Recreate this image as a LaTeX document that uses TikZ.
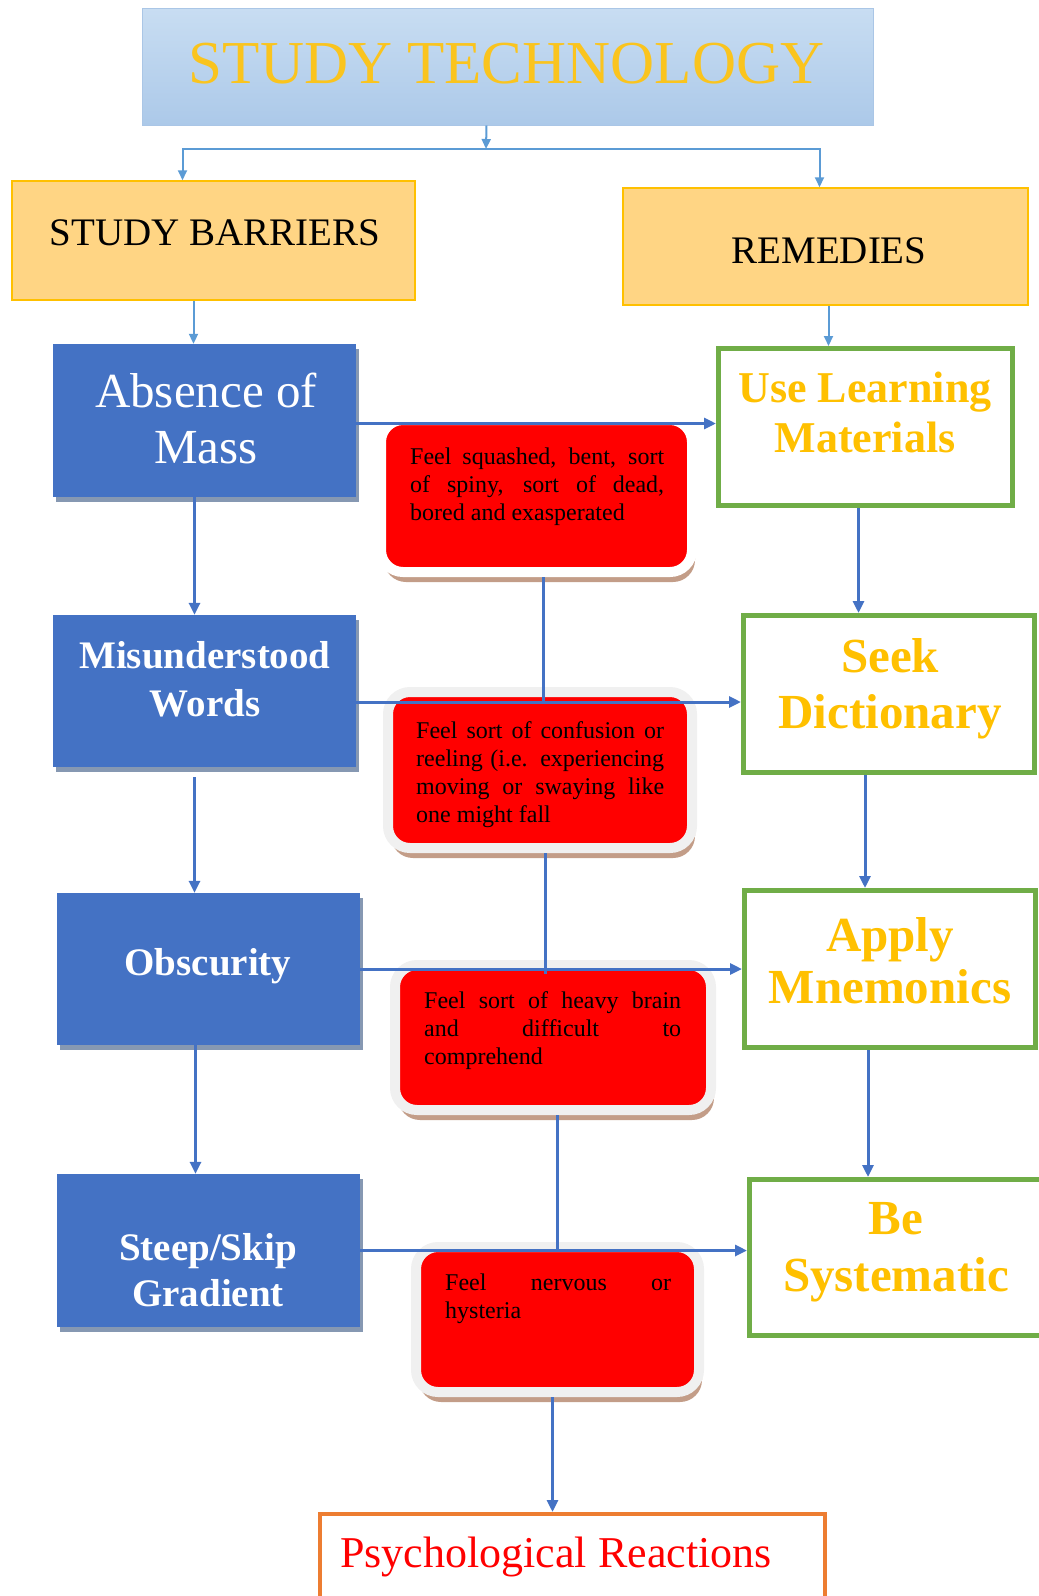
\documentclass[tikz,border=0pt]{standalone}
\usepackage{fontspec}
\setmainfont{Liberation Serif}
\usetikzlibrary{arrows.meta,shadows,calc}
\definecolor{titletop}{RGB}{200,221,242}
\definecolor{titlebottom}{RGB}{172,201,233}
\definecolor{titleedge}{RGB}{170,198,230}
\definecolor{titlegold}{RGB}{250,196,30}
\definecolor{barfill}{RGB}{255,213,132}
\definecolor{baredge}{RGB}{255,192,0}
\definecolor{boxblue}{RGB}{68,114,196}
\definecolor{blueshadow}{RGB}{134,152,178}
\definecolor{lineblue}{RGB}{91,155,213}
\definecolor{boxgreen}{RGB}{112,173,71}
\definecolor{gold}{RGB}{255,192,0}
\definecolor{redglow}{RGB}{240,240,240}
\definecolor{redshadow}{RGB}{195,157,136}
\definecolor{boxorange}{RGB}{237,125,49}
\hyphenpenalty=10000
\tikzset{
	headbox/.style={draw=titleedge, line width=1pt, top color=titletop, bottom color=titlebottom, inner sep=0pt},
	sidebox/.style={draw=baredge, line width=1.5pt, fill=barfill, inner sep=0pt},
	barrier/.style={fill=boxblue, inner sep=0pt, drop shadow={shadow xshift=3pt, shadow yshift=-5pt, fill=blueshadow, opacity=1}},
	remedy/.style={draw=boxgreen, line width=5pt, fill=white, inner sep=0pt},
	feeling/.style={fill=red, draw=redglow, line width=10pt, rounded corners=22pt, inner sep=0pt, drop shadow={shadow xshift=3pt, shadow yshift=-10pt, fill=redshadow, opacity=1}},
	reaction/.style={draw=boxorange, line width=4pt, fill=white, inner sep=0pt},
	bartext/.style={text=white, align=center, inner sep=0pt},
	remtext/.style={text=gold, align=center, inner sep=0pt},
	feeltext/.style={anchor=base west, inner sep=0pt, align=justify, font=\fontsize{24}{28}\selectfont\sloppy},
	link/.style={draw=boxblue, line width=3pt, -{Triangle[length=12pt,width=11pt]}},
	toplink/.style={draw=lineblue, line width=2pt, -{Triangle[length=10pt,width=9pt]}},
	feelline/.style={draw=boxblue, line width=3pt},
}

\begin{document}
\begin{tikzpicture}[x=1pt,y=-1pt]
		%%%%% START %%%%%
		\useasboundingbox (0,0) rectangle (1039,1596);
		
		% heading and the two sides
		\node[headbox, minimum width=731pt, minimum height=117pt] (title) at (507.5,66.5) {};
		\node[font=\fontsize{61}{61}\selectfont, text=titlegold, anchor=base, inner sep=0pt] (titleT) at (506.5,83) {STUDY TECHNOLOGY};
		
		\node[sidebox, minimum width=403pt, minimum height=119pt] (bar) at (213.5,240.5) {};
		\node[font=\fontsize{39}{39}\selectfont, anchor=base, inner sep=0pt] (barT) at (215,245) {STUDY BARRIERS};
		\node[sidebox, minimum width=405pt, minimum height=117pt] (rem) at (825.5,246.5) {};
		\node[font=\fontsize{39}{39}\selectfont, anchor=base, inner sep=0pt] (remT) at (829,263) {REMEDIES};
		
		% barriers
		\node[barrier, minimum width=303pt, minimum height=153pt] (abs) at (204.5,420.5) {};
		\node[barrier, minimum width=303pt, minimum height=152pt] (mis) at (204.5,691) {};
		\node[barrier, minimum width=303pt, minimum height=152pt] (obs) at (208.5,969) {};
		\node[barrier, minimum width=303pt, minimum height=153pt] (ste) at (208.5,1250.5) {};
		\node[bartext, font=\fontsize{49}{56}\selectfont] (absT) at (206,418) {Absence of\\Mass};
		\node[bartext, font=\bfseries\fontsize{39}{48}\selectfont] (misT) at (205,679) {Misunderstood\\Words};
		\node[bartext, font=\bfseries\fontsize{39}{39}\selectfont, anchor=base] (obsT) at (208,975) {Obscurity};
		\node[bartext, font=\bfseries\fontsize{39}{46}\selectfont] (steT) at (208,1270) {Steep/Skip\\Gradient};
		
		% remedies
		\node[remedy, minimum width=294pt, minimum height=157pt] (use) at (865.5,427) {};
		\node[remedy, minimum width=291pt, minimum height=157pt] (see) at (889,694) {};
		\node[remedy, minimum width=291pt, minimum height=157pt] (app) at (890,969) {};
		\node[remedy, minimum width=293pt, minimum height=156pt] (bes) at (896,1257.5) {};
		\node[remtext, font=\bfseries\fontsize{44}{50}\selectfont] (useT) at (865,412) {Use Learning\\Materials};
		\node[remtext, font=\bfseries\fontsize{49}{56}\selectfont] (seeT) at (890,689) {Seek\\Dictionary};
		\node[remtext, font=\bfseries\fontsize{49}{52}\selectfont] (appT) at (890,961) {Apply\\Mnemonics};
		\node[remtext, font=\bfseries\fontsize{49}{57}\selectfont] (besT) at (896,1252) {Be\\Systematic};
		
		% feelings
		\node[feeling, draw=white, minimum width=311pt, minimum height=152pt] (red1) at (536.5,496) {};
		\node[feeling, minimum width=304pt, minimum height=156pt] (red2) at (540,770) {};
		\node[feeling, minimum width=316pt, minimum height=145pt] (red3) at (553,1037.5) {};
		\node[feeling, minimum width=283pt, minimum height=145pt] (red4) at (557.5,1319.5) {};
		\node[feeltext, text width=254pt] (red1T) at (410,464) {Feel squashed, bent, sort\linebreak of spiny, sort of dead,\linebreak bored and exasperated};
		\node[feeltext, text width=248pt] (red2T) at (416,738) {Feel sort of confusion or\linebreak reeling (i.e. experiencing\linebreak moving or swaying like\linebreak one might fall};
		\node[feeltext, text width=257pt] (red3T) at (424,1008) {Feel sort of heavy brain\linebreak and difficult to\linebreak comprehend};
		\node[feeltext, text width=226pt] (red4T) at (445,1290) {Feel nervous or\linebreak hysteria};
		
		\node[reaction, minimum width=505pt, minimum height=110pt] (psy) at (572.5,1569) {};
		\node[font=\fontsize{44}{44}\selectfont, text=red, anchor=base, inner sep=0pt] (psyT) at (556,1567) {Psychological Reactions};
		
		% connectors
		\coordinate (split) at (486,149);
		\draw[toplink] ([xshift=-21pt]title.south) -- (split);
		\draw[toplink] (split) -| ([xshift=-31pt]bar.north);
		\draw[toplink] (split) -| ([xshift=-6pt]rem.north);
		\draw[toplink] ([xshift=-20pt]bar.south) -- ([xshift=-20pt]bar.south |- abs.north);
		\draw[toplink] ([xshift=3pt]rem.south) -- ([xshift=3pt]rem.south |- use.north);
		
		\draw[link] ([xshift=-10pt]abs.south) -- ([xshift=-10pt]abs.south |- mis.north);
		\draw[link] ([xshift=-10pt,yshift=-10pt]mis.south) -- ([xshift=-10pt]mis.south |- obs.north);
		\draw[link] ([xshift=-13pt]obs.south) -- ([xshift=-13pt]obs.south |- ste.north);
		
		\draw[link] ([xshift=-7pt]use.south) -- ([xshift=-7pt]use.south |- see.north);
		\draw[link] ([xshift=-24pt]see.south) -- ([xshift=-24pt]see.south |- app.north);
		\draw[link] ([xshift=-22pt]app.south) -- ([xshift=-22pt]app.south |- bes.north);
		
		\draw[link] ([yshift=-3pt]abs.east) -- ([yshift=-3pt]abs.east -| use.west);
		\draw[link] ([yshift=-11pt]mis.east) -- ([yshift=-11pt]mis.east -| see.west);
		\draw[link] (obs.east) -- (obs.east -| app.west);
		\draw[link] (ste.east) -- (ste.east -| bes.west);
		
		\draw[feelline] ([xshift=3pt]red1.south -| red2.north) -- ([xshift=3pt,yshift=-11pt]mis.east -| red2.north);
		\draw[feelline] ([xshift=5pt]red2.south) -- ([xshift=5pt,yshift=-14pt]red2.south |- red3.north);
		\draw[feelline] (red3.south -| red4.north) -- (ste.east -| red4.north);
		\draw[link] ([xshift=-5pt]red4.south) -- ([xshift=-5pt]red4.south |- psy.north);
		
		%%%%% END %%%%%
	\end{tikzpicture}
\end{document}
